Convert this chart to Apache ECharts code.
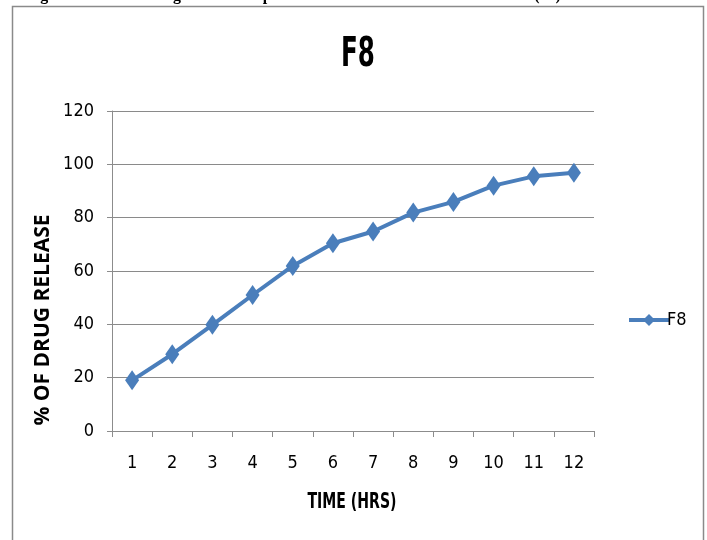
<!DOCTYPE html>
<html>
<head>
<meta charset="utf-8">
<style>
  html, body { margin: 0; padding: 0; background: #ffffff; }
  #chart { width: 707px; height: 540px; }
</style>
<script src="https://cdn.jsdelivr.net/npm/echarts@6/dist/echarts.min.js"></script>
</head>
<body>
<div id="chart"></div>
<script>
// Time points (hours) and cumulative % drug release for formulation F8
var hours = ['1', '2', '3', '4', '5', '6', '7', '8', '9', '10', '11', '12'];
var releaseF8 = [19.0, 28.8, 39.8, 51.0, 61.9, 70.4, 74.8, 81.9, 85.9, 92.0, 95.5, 96.8];
var yTicks = [0, 20, 40, 60, 80, 100, 120];

var narrow = '"DejaVu Sans Condensed", "DejaVu Sans", sans-serif';
var wide = '"DejaVu Sans", sans-serif';
var lineBlue = '#4a7ebb';

var chart = echarts.init(document.getElementById('chart'), null, { renderer: 'canvas' });

chart.setOption({
  backgroundColor: '#ffffff',
  animation: false,
  legend: {
    data: ['F8'],
    left: 622,
    top: 306,
    itemWidth: 40,
    itemHeight: 15,
    itemGap: 2,
    lineStyle: { width: 4 },
    textStyle: { fontFamily: narrow, fontSize: 18, color: '#000000', padding: [0, 0, 0, -7] }
  },
  grid: { left: 112, right: 113, top: 111, bottom: 109, containLabel: false },
  xAxis: {
    type: 'category',
    data: hours,
    boundaryGap: true,
    axisLine: { show: true, lineStyle: { color: '#8c8c8c', width: 1 } },
    axisTick: { show: true, length: 6, lineStyle: { color: '#8c8c8c' } },
    axisLabel: { fontFamily: narrow, fontSize: 18, color: '#000000', margin: 23 },
    splitLine: { show: false }
  },
  yAxis: {
    type: 'value',
    min: yTicks[0],
    max: yTicks[yTicks.length - 1],
    interval: yTicks[1] - yTicks[0],
    axisLine: { show: true, lineStyle: { color: '#8c8c8c', width: 1 } },
    axisTick: { show: true, length: 5, lineStyle: { color: '#8c8c8c' } },
    axisLabel: { fontFamily: narrow, fontSize: 18, color: '#000000', margin: 18 },
    splitLine: { show: true, lineStyle: { color: '#8a8a8a', width: 1 } }
  },
  series: [{
    name: 'F8',
    type: 'line',
    data: releaseF8,
    symbol: 'diamond',
    symbolSize: [14, 20],
    lineStyle: { color: lineBlue, width: 4 },
    itemStyle: { color: lineBlue },
    z: 3
  }],
  graphic: [
    // outer frame of the figure
    {
      type: 'rect',
      shape: { x: 12.5, y: 6.5, width: 691, height: 560 },
      style: { fill: 'none', stroke: '#8a8a8a', lineWidth: 1.5 },
      silent: true
    },
    // figure caption running above the frame
    {
      type: 'text',
      x: 26,
      y: 4,
      style: {
        text: 'Figure 8: In vitro drug dissolution profile of formulation F8 release values (%)',
        fontFamily: '"Liberation Serif", "DejaVu Serif", serif',
        fontWeight: 'bold',
        fontSize: 16,
        fill: '#000000',
        verticalAlign: 'bottom'
      },
      silent: true
    },
    // chart title, set in a tall condensed face
    {
      type: 'text',
      x: 358,
      y: 55,
      scaleX: 0.6,
      style: {
        text: 'F8',
        fontFamily: wide,
        fontWeight: 'bold',
        fontSize: 41,
        fill: '#000000',
        align: 'center',
        verticalAlign: 'middle'
      },
      silent: true
    },
    // y axis title
    {
      type: 'text',
      x: 43,
      y: 320,
      rotation: Math.PI / 2,
      style: {
        text: '% OF DRUG RELEASE',
        fontFamily: '"Open Sans", "DejaVu Sans", sans-serif',
        fontWeight: 'bold',
        fontSize: 21,
        fill: '#000000',
        align: 'center',
        verticalAlign: 'middle'
      },
      silent: true
    },
    // x axis title
    {
      type: 'text',
      x: 352,
      y: 502,
      scaleX: 0.64,
      style: {
        text: 'TIME (HRS)',
        fontFamily: wide,
        fontWeight: 'bold',
        fontSize: 22,
        fill: '#000000',
        align: 'center',
        verticalAlign: 'middle'
      },
      silent: true
    }
  ]
});
</script>
</body>
</html>
